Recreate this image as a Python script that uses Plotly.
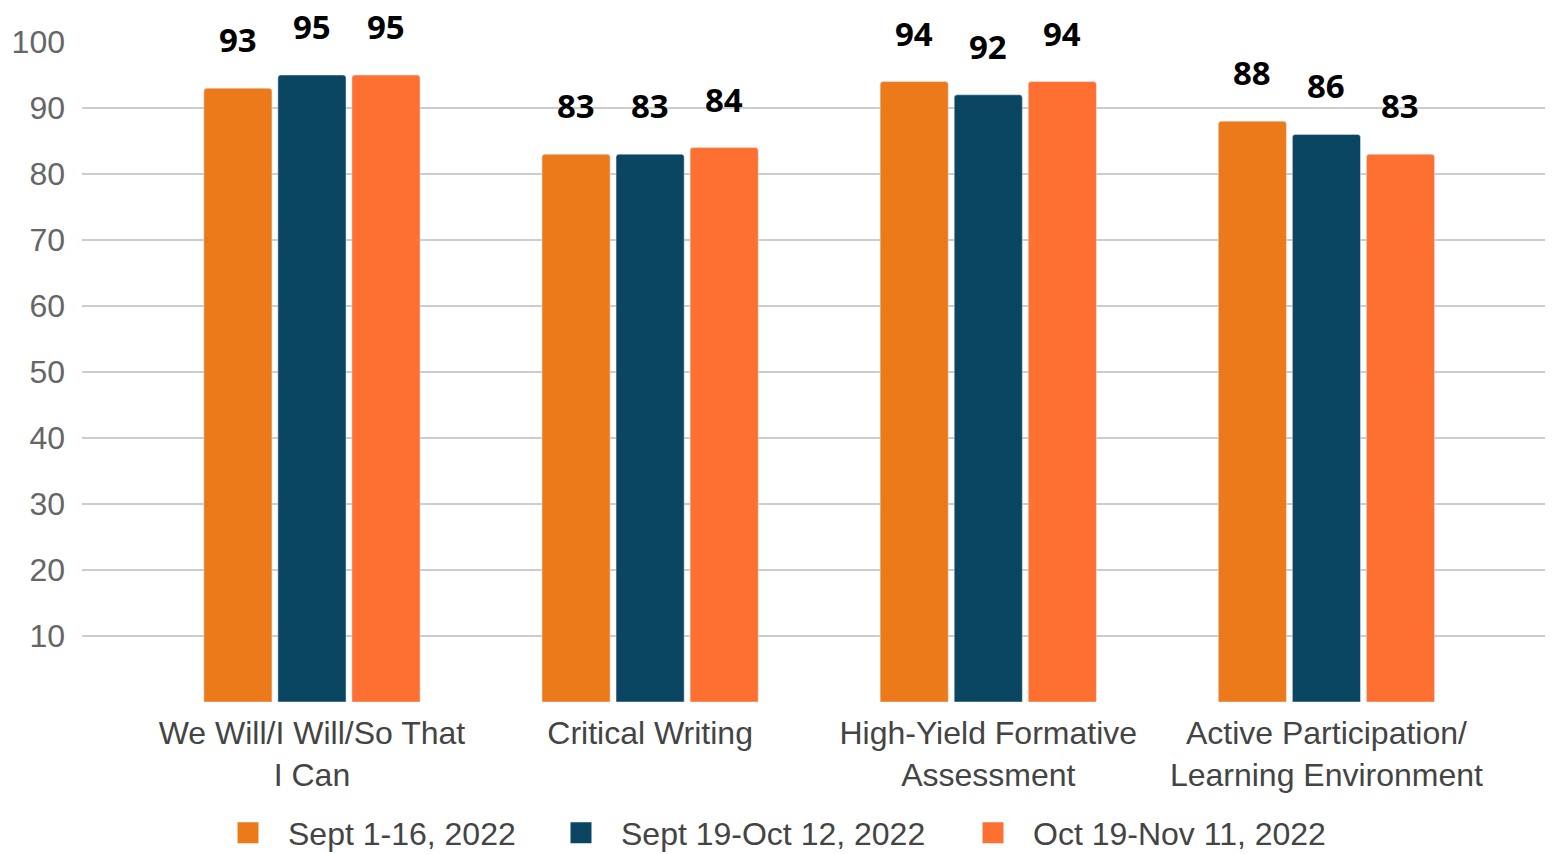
import plotly.graph_objects as go

categories = ["We Will/I Will/So That<br>I Can", "Critical Writing",
              "High-Yield Formative<br>Assessment", "Active Participation/<br>Learning Environment"]
series_names = ["Sept 1-16, 2022", "Sept 19-Oct 12, 2022", "Oct 19-Nov 11, 2022"]
sept1_16 = [93, 83, 94, 88]
sept19_oct12 = [95, 83, 92, 86]
oct19_nov11 = [95, 84, 94, 83]
y_ticks = [10, 20, 30, 40, 50, 60, 70, 80, 90, 100]

colors = ["#EC7A1B", "#0A4562", "#FE6F32"]
series = [sept1_16, sept19_oct12, oct19_nov11]
legend_ids = ["legend", "legend2", "legend3"]
legend_left_px = [200, 533, 945]
bar_step_px = 74  # pixel distance between bar centres inside a group

W, H = 1545, 846

fig = go.Figure()
for i, (name, vals, col) in enumerate(zip(series_names, series, colors)):
    fig.add_trace(go.Bar(x=categories, y=vals, name=name, marker_color=col,
                         showlegend=False))
    # legend proxy with a larger square swatch
    fig.add_trace(go.Scatter(x=[None], y=[None], mode="markers", name=name,
                             legend=legend_ids[i],
                             marker=dict(symbol="square", size=16, color=col,
                                         line=dict(color=col, width=5))))
    for cat, v in zip(categories, vals):
        fig.add_annotation(x=cat, y=v, text=f"<b>{v}</b>", showarrow=False,
                           xshift=(i - 1) * bar_step_px, yshift=30, yanchor="bottom",
                           height=36, valign="middle", borderpad=0,
                           font=dict(family="Open Sans", size=33, color="#000000"))

legend_style = dict(xref="container", yref="container", xanchor="left",
                    y=(H - 825) / H, yanchor="middle", borderwidth=0,
                    font=dict(size=32, color="#444444"), itemsizing="trace",
                    itemwidth=70, bgcolor="rgba(0,0,0,0)")
fig.update_layout(
    width=W, height=H,
    barmode="group", bargap=0.343, bargroupgap=0.08, barcornerradius=3,
    plot_bgcolor="white", paper_bgcolor="white",
    margin=dict(l=74, r=0, t=34, b=152, autoexpand=False),
    font=dict(family="Liberation Sans"),
    showlegend=True,
    legend=dict(x=legend_left_px[0] / W, **legend_style),
    legend2=dict(x=legend_left_px[1] / W, **legend_style),
    legend3=dict(x=legend_left_px[2] / W, **legend_style),
)
fig.update_yaxes(range=[0, 100], tickvals=y_ticks, showgrid=True, gridcolor="#CCCCCC",
                 gridwidth=2, zeroline=False, showline=False, automargin=False,
                 tickfont=dict(size=32, color="#666666"), ticklabelstandoff=16)
fig.update_xaxes(range=[-0.68, 3.67], showline=False, showgrid=False, automargin=False,
                 tickfont=dict(size=32, color="#444444"), ticklabelstandoff=9)

fig.write_html("out.html")
